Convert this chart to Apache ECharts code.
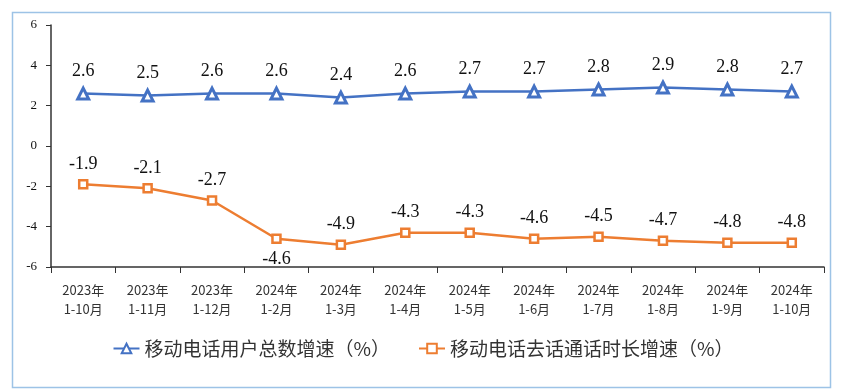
<!DOCTYPE html>
<html><head><meta charset="utf-8">
<script src="https://cdn.jsdelivr.net/npm/echarts@6/dist/echarts.min.js"></script>
<style>html,body{margin:0;padding:0;background:#fff}#c{width:846px;height:392px}</style>
</head><body><div id="c"></div>
<script>
var categories = ['2023年\n1-10月','2023年\n1-11月','2023年\n1-12月','2024年\n1-2月','2024年\n1-3月','2024年\n1-4月','2024年\n1-5月','2024年\n1-6月','2024年\n1-7月','2024年\n1-8月','2024年\n1-9月','2024年\n1-10月'];
var usersGrowth = [2.6,2.5,2.6,2.6,2.4,2.6,2.7,2.7,2.8,2.9,2.8,2.7];
var callGrowth = [-1.9,-2.1,-2.7,-4.6,-4.9,-4.3,-4.3,-4.6,-4.5,-4.7,-4.8,-4.8];
var seriesNames = ['移动电话用户总数增速（%）','移动电话去话通话时长增速（%）'];
var belowIdx = [3];

var chart = echarts.init(document.getElementById('c'));
var lblFont = {fontFamily:'Liberation Serif', fontSize:18, color:'#111'};
chart.setOption({
  animation:false,
  graphic:[{type:'rect',shape:{x:12.5,y:12.5,width:818,height:375},style:{fill:'none',stroke:'#9DC3E6',lineWidth:1.5},silent:true}],
  grid:{left:51,right:22,top:25,bottom:125},
  legend:{bottom:29,left:'center',itemGap:28,itemWidth:26,itemHeight:12,
    textStyle:{fontFamily:'Noto Sans CJK SC',fontSize:19,color:'#333'},
    data:seriesNames},
  xAxis:{type:'category',data:categories,boundaryGap:true,
    axisLine:{onZero:false,lineStyle:{color:'#333',width:1.5}},
    axisTick:{show:true,length:6,lineStyle:{color:'#333'},alignWithLabel:false},
    axisLabel:{fontFamily:'Noto Sans CJK SC',fontSize:13,color:'#333',lineHeight:19,margin:14}},
  yAxis:{type:'value',min:-6,max:6,interval:2,
    axisLine:{show:true,lineStyle:{color:'#333',width:1.5}},
    axisTick:{show:true,length:5,lineStyle:{color:'#333'}},
    splitLine:{show:false},
    axisLabel:{fontFamily:'Liberation Serif',fontSize:13,color:'#111',margin:14}},
  series:[
    {name:seriesNames[0],type:'line',data:usersGrowth,symbol:'triangle',symbolSize:11,
      itemStyle:{color:'#fff',borderColor:'#4472C4',borderWidth:3},
      lineStyle:{color:'#4472C4',width:2.5},
      label:Object.assign({show:true,position:'top',distance:6,formatter:function(p){return p.value.toFixed(1);}},lblFont)},
    {name:seriesNames[1],type:'line',
      data:callGrowth.map(function(v,i){return belowIdx.indexOf(i)>=0?{value:v,label:{position:'bottom'}}:v;}),
      symbol:'rect',symbolSize:8,
      itemStyle:{color:'#fff',borderColor:'#ED7D31',borderWidth:2.5},
      lineStyle:{color:'#ED7D31',width:2.5},
      label:Object.assign({show:true,position:'top',distance:6,formatter:function(p){return p.value.toFixed(1);}},lblFont)}
  ]
});
</script></body></html>
